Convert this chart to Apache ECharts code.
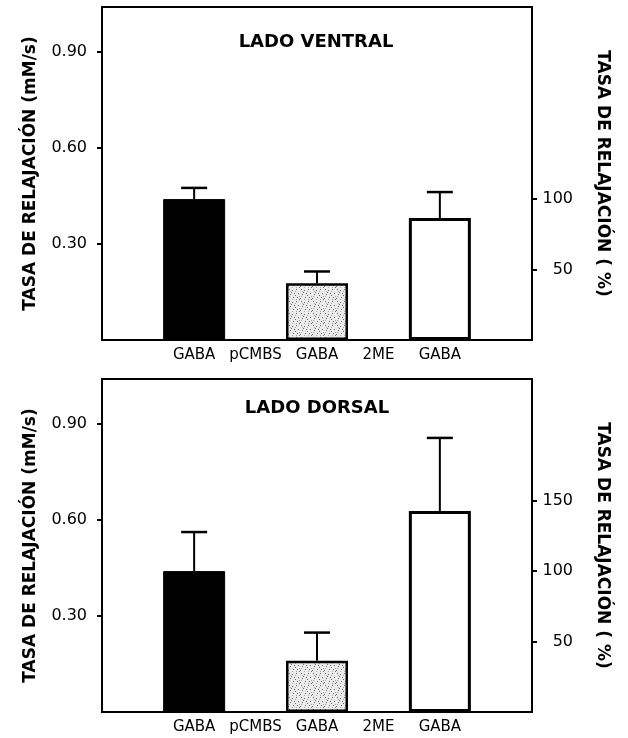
<!DOCTYPE html>
<html><head><meta charset="utf-8">
<script src="https://cdn.jsdelivr.net/npm/echarts@6/dist/echarts.min.js"></script>
<style>html,body{margin:0;padding:0;background:#fff}#c{width:628px;height:738px}</style>
</head><body><div id="c"></div>
<script>
// ---- data ----
const categories = ['GABA', 'pCMBS', 'GABA', '2ME', 'GABA'];
const ventralValues = [0.44, null, 0.177, null, 0.381];
const ventralErrTop = [0.475, null, 0.214, null, 0.462];
const dorsalValues = [0.44, null, 0.16, null, 0.628];
const dorsalErrTop = [0.562, null, 0.248, null, 0.856];
const leftTicks = [0.30, 0.60, 0.90];
const rightTicksVentral = [50, 100];
const rightTicksDorsal = [50, 100, 150];
const panelTitles = ['LADO VENTRAL', 'LADO DORSAL'];
const leftName = 'TASA DE RELAJACIÓN (mM/s)';
const rightName = 'TASA DE RELAJACIÓN ( %)';
const leftMax = 1.04;
const refValue = 0.44; // value equal to 100 %

// ---- styles ----
const FONT = '"DejaVu Sans", "Open Sans", sans-serif';
function makePattern() {
  const c = document.createElement('canvas');
  c.width = 12; c.height = 12;
  const g = c.getContext('2d');
  g.fillStyle = '#ececec'; g.fillRect(0, 0, 12, 12);
  const dots = [[1,1],[4,2],[8,1],[10,5],[2,6],[6,5],[5,9],[9,9],[0,10],[7,7],[3,4],[11,11]];
  g.fillStyle = '#6a6a6a';
  dots.forEach(d => g.fillRect(d[0], d[1], 1, 1));
  g.fillStyle = '#a8a8a8';
  [[2,3],[7,3],[11,8],[4,11],[8,11],[1,8]].forEach(d => g.fillRect(d[0], d[1], 1, 1));
  return c;
}
const pattern = {image: makePattern(), repeat: 'repeat'};
const barStyles = [
  {color: '#000', borderColor: '#000', borderWidth: 1},
  null,
  {color: pattern, borderColor: '#000', borderWidth: 2.5},
  null,
  {color: '#fff', borderColor: '#000', borderWidth: 3}
];

const axisCats = [''].concat(categories, ['']);
function barData(vals) {
  const out = [null];
  vals.forEach((v, i) => out.push(v == null ? null : {value: v, itemStyle: barStyles[i]}));
  out.push(null);
  return out;
}
function errData(vals, tops) {
  const out = [];
  vals.forEach((v, i) => { if (v != null) out.push([i + 1, v, tops[i]]); });
  return out;
}
function renderErr(params, api) {
  const p0 = api.coord([api.value(0), api.value(1)]);
  const p1 = api.coord([api.value(0), api.value(2)]);
  const half = 13;
  return {type: 'group', children: [
    {type: 'line', shape: {x1: p0[0], y1: p0[1], x2: p1[0], y2: p1[1]}, style: {stroke: '#000', lineWidth: 2}},
    {type: 'line', shape: {x1: p1[0] - half, y1: p1[1], x2: p1[0] + half, y2: p1[1]}, style: {stroke: '#000', lineWidth: 2.5}}
  ]};
}

const grids = [
  {left: 102, right: 96, top: 7, height: 333},
  {left: 102, right: 96, top: 379, height: 333}
];
const rightTickSets = [rightTicksVentral, rightTicksDorsal];
const option = {
  animation: false,
  backgroundColor: '#fff',
  grid: grids.map(g => Object.assign({show: true, borderColor: '#000', borderWidth: 2, backgroundColor: 'transparent'}, g)),
  xAxis: grids.map((g, i) => ({
    type: 'category', gridIndex: i, data: axisCats,
    axisLine: {show: false}, axisTick: {show: false},
    axisLabel: {interval: 0, margin: 8, color: '#000', fontSize: 15, fontFamily: FONT}
  })),
  yAxis: [].concat(...grids.map((g, i) => [
    {
      type: 'value', gridIndex: i, min: 0, max: leftMax, position: 'left',
      splitLine: {show: false}, axisLine: {show: false},
      axisTick: {show: true, inside: false, length: 5, lineStyle: {color: '#000', width: 2}, customValues: leftTicks},
      axisLabel: {customValues: leftTicks, formatter: v => v.toFixed(2), margin: 15, color: '#000', fontSize: 16, fontFamily: FONT},
      name: leftName, nameLocation: 'middle', nameGap: 63, nameRotate: 90,
      nameTextStyle: {color: '#000', fontSize: 17, fontWeight: 'bold', fontFamily: FONT}
    },
    {
      type: 'value', gridIndex: i, min: 0, max: leftMax / refValue * 100, position: 'right',
      splitLine: {show: false}, axisLine: {show: false},
      axisTick: {show: true, inside: false, length: 5, lineStyle: {color: '#000', width: 2}, customValues: rightTickSets[i]},
      axisLabel: {customValues: rightTickSets[i], margin: 41, align: 'right', color: '#000', fontSize: 16, fontFamily: FONT},
      name: rightName, nameLocation: 'middle', nameGap: 62, nameRotate: -90,
      nameTextStyle: {color: '#000', fontSize: 17, fontWeight: 'bold', fontFamily: FONT}
    }
  ])),
  graphic: [
    {type: 'text', x: 316, y: 42, style: {text: panelTitles[0], textAlign: 'center', textVerticalAlign: 'middle', font: 'bold 18px ' + FONT, fill: '#000'}},
    {type: 'text', x: 317, y: 408, style: {text: panelTitles[1], textAlign: 'center', textVerticalAlign: 'middle', font: 'bold 18px ' + FONT, fill: '#000'}}
  ],
  series: [
    {type: 'bar', xAxisIndex: 0, yAxisIndex: 0, data: barData(ventralValues), barWidth: 62, z: 2},
    {type: 'custom', xAxisIndex: 0, yAxisIndex: 0, data: errData(ventralValues, ventralErrTop), renderItem: renderErr, z: 3},
    {type: 'bar', xAxisIndex: 1, yAxisIndex: 2, data: barData(dorsalValues), barWidth: 62, z: 2},
    {type: 'custom', xAxisIndex: 1, yAxisIndex: 2, data: errData(dorsalValues, dorsalErrTop), renderItem: renderErr, z: 3}
  ]
};
echarts.init(document.getElementById('c'), null, {renderer: 'canvas'}).setOption(option);
</script>
</body></html>
